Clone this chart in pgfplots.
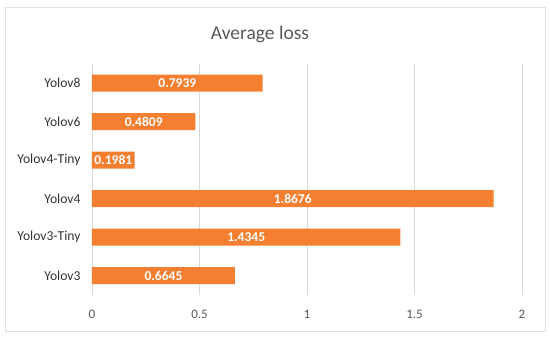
\documentclass[border=0pt]{standalone}
\usepackage{pgfplots}
\pgfplotsset{compat=1.18}
\usepackage{pgfplotstable}
\usepackage{fontspec}
\setmainfont{Carlito}
\definecolor{barorange}{HTML}{F47F30}
\definecolor{txtgray}{HTML}{595959}
\definecolor{gridgray}{HTML}{D9D9D9}
\pgfplotstableread{
y v lbl
0 0.6645 0.6645
1 1.4345 1.4345
2 1.8676 1.8676
3 0.1981 0.1981
4 0.4809 0.4809
5 0.7939 0.7939
}\loss
\begin{document}
\begin{tikzpicture}[x=1pt,y=1pt]
\path[use as bounding box] (0,0) rectangle (550,339);
\draw[gridgray!80, line width=1pt] (5,7) rectangle (545,331);
\node[anchor=base, text=txtgray, font=\fontsize{19.5}{22}\selectfont] at (260,299) {Average loss};
\begin{axis}[
  at={(92pt,44pt)}, anchor=south west,
  scale only axis, width=430pt, height=231pt,
  xmin=0, xmax=2, ymin=-0.5, ymax=5.5,
  xtick={0,0.5,1,1.5,2},
  ytick={0,1,2,3,4,5},
  yticklabels={Yolov3,Yolov3-Tiny,Yolov4,Yolov4-Tiny,Yolov6,Yolov8},
  axis line style={draw=none},
  xmajorgrids, grid style={gridgray, line width=0.8pt},
  major tick length=0pt,
  xticklabel style={text=txtgray, font=\fontsize{13}{15}\selectfont, yshift=-12pt},
  yticklabel style={text=black!80, font=\fontsize{13.6}{15}\selectfont, xshift=-8pt},
  /pgf/number format/assume math mode=true,
  clip=false,
]
\addplot[xbar, bar width=17pt, bar shift=0pt, fill=barorange, draw=none] table[x=v, y=y] {\loss};
\addplot[only marks, mark=none, nodes near coords, point meta=explicit symbolic,
  nodes near coords style={anchor=center, text=white, font=\bfseries\fontsize{13.5}{15}\selectfont}]
  table[x expr=\thisrow{v}/2, y=y, meta=lbl] {\loss};
\end{axis}
\end{tikzpicture}
\end{document}
